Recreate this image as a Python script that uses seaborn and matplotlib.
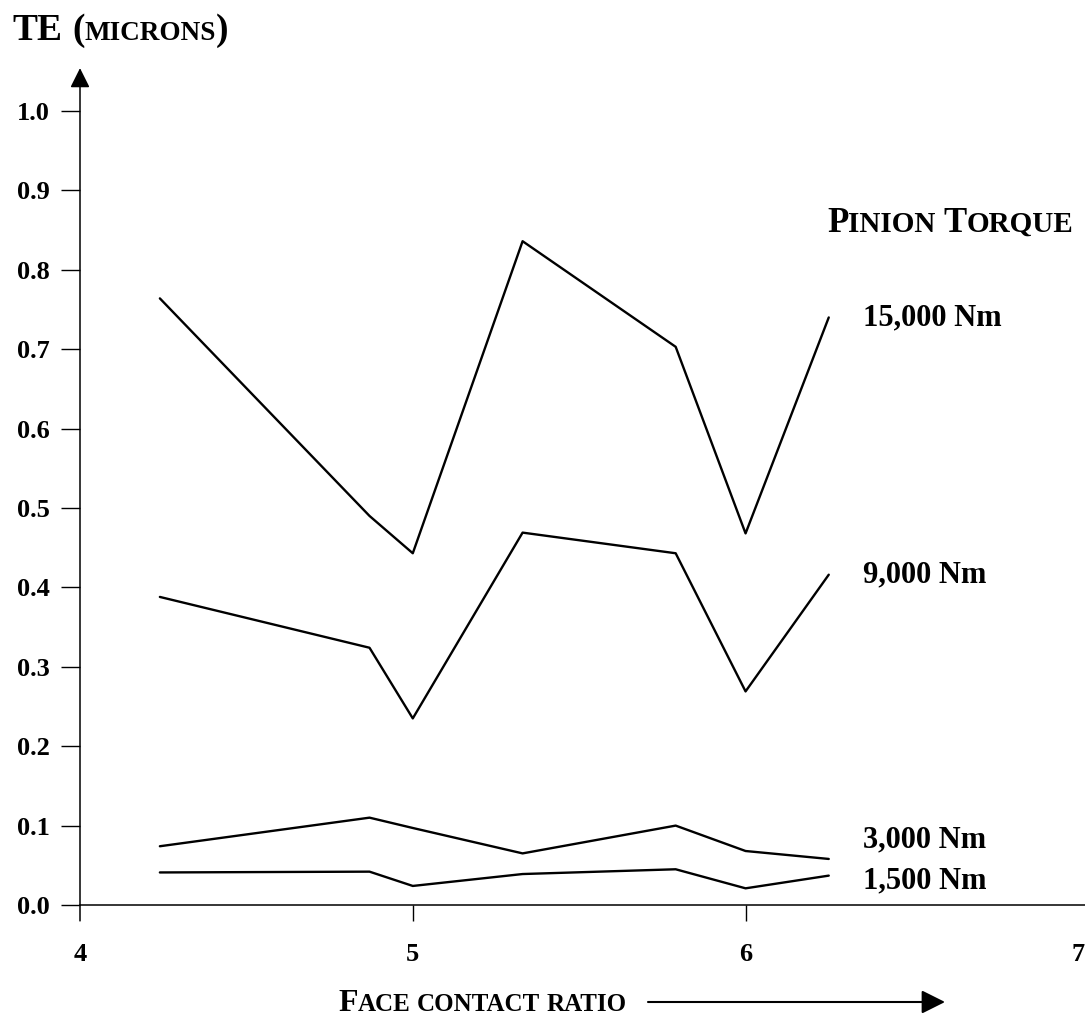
import numpy as np
import pandas as pd
import matplotlib
matplotlib.use("Agg")
import matplotlib.pyplot as plt
import seaborn as sns

# face contact ratio values where TE was computed
ratio = [4.24, 4.87, 5.0, 5.33, 5.79, 6.0, 6.25]

# transmission error (microns) per pinion torque
te_15000 = [0.764, 0.490, 0.443, 0.836, 0.703, 0.468, 0.740]
te_9000 = [0.388, 0.324, 0.235, 0.469, 0.443, 0.269, 0.416]
te_3000 = [0.074, 0.110, 0.097, 0.065, 0.100, 0.068, 0.058]
te_1500 = [0.041, 0.042, 0.024, 0.039, 0.045, 0.021, 0.037]

torques = ["15,000 Nm", "9,000 Nm", "3,000 Nm", "1,500 Nm"]
series = [te_15000, te_9000, te_3000, te_1500]
label_dy = [0, 0, 19, -5]  # pixel nudges so labels don't collide

y_ticks = [0.0, 0.1, 0.2, 0.3, 0.4, 0.5, 0.6, 0.7, 0.8, 0.9, 1.0]
x_ticks = [4, 5, 6, 7]

df = pd.concat(
    [pd.DataFrame({"ratio": ratio, "te": vals, "torque": name})
     for name, vals in zip(torques, series)],
    ignore_index=True,
)

sns.set_theme(style="white")
plt.rcParams["font.family"] = ["Liberation Serif", "DejaVu Serif"]
plt.rcParams["font.weight"] = "bold"

W, H = 1085, 1018
fig = plt.figure(figsize=(W / 100, H / 100), dpi=100)
ax = fig.add_axes([80 / W, (H - 905) / H, (1085 - 80) / W, 794 / H])

sns.lineplot(data=df, x="ratio", y="te", hue="torque", hue_order=torques,
             palette=["black"] * 4, legend=False, errorbar=None,
             linewidth=1.7, ax=ax)

ax.set_xlim(4, 7.02)
ax.set_ylim(0, 1.0)
ax.set_xticks(x_ticks)
ax.set_xticklabels([str(t) for t in x_ticks])
ax.set_yticks(y_ticks)
ax.set_yticklabels([f"{t:.1f}" for t in y_ticks])
ax.set_xlabel("")
ax.set_ylabel("")

for side in ["top", "right", "left"]:
    ax.spines[side].set_visible(False)
ax.spines["bottom"].set_color("black")
ax.spines["bottom"].set_linewidth(1.1)

ax.tick_params(axis="y", direction="out", length=14, width=1.0, pad=8,
               left=True, labelsize=19, colors="black")
ax.tick_params(axis="x", direction="out", length=11.5, width=1.0, pad=16,
               bottom=True, labelsize=19, colors="black")
xt = ax.xaxis.get_major_ticks()
xt[0].tick1line.set_visible(False)
xt[-1].tick1line.set_visible(False)

# vertical axis with arrow head
ax.annotate("", xy=(4, 1.054), xytext=(4, -0.02), xycoords="data",
            annotation_clip=False,
            arrowprops=dict(arrowstyle="-|>,head_length=0.8,head_width=0.4",
                            mutation_scale=15, lw=1.1, color="black",
                            shrinkA=0, shrinkB=0))

# series labels at the line ends
for name, vals, dy in zip(torques, series, label_dy):
    ax.annotate(name, xy=(ratio[-1], vals[-1]), xytext=(34, dy),
                textcoords="offset pixels", ha="left", va="center",
                fontsize=22, fontweight="bold", color="black")

renderer = fig.canvas.get_renderer()


def caps_text(x, y, words):
    """draw small-caps style text from pieces; x, y in pixels from top-left"""
    for i, word in enumerate(words):
        for s, size in word:
            t = fig.text(x / W, 1 - y / H, s, fontsize=size, fontweight="bold",
                         va="baseline", ha="left", color="black")
            x += t.get_window_extent(renderer=renderer).width
        if i < len(words) - 1:
            x += 0.27 * word[-1][1] * 100 / 72


caps_text(12, 40, [[("TE", 27)], [("(", 27), ("MICRONS", 19.5), (")", 27)]])
caps_text(827, 232, [[("P", 25), ("INION", 21)], [("T", 25), ("ORQUE", 21)]])
caps_text(338, 1011, [[("F", 23), ("ACE", 18)], [("CONTACT", 18)], [("RATIO", 18)]])

# arrow next to the x label
ax.annotate("", xy=(945, H - 1002), xytext=(648, H - 1002),
            xycoords="figure pixels", textcoords="figure pixels",
            arrowprops=dict(arrowstyle="-|>,head_length=0.8,head_width=0.4",
                            mutation_scale=18, lw=1.5, color="black",
                            shrinkA=0, shrinkB=0))

fig.savefig("out.png", dpi=100, facecolor="white")
